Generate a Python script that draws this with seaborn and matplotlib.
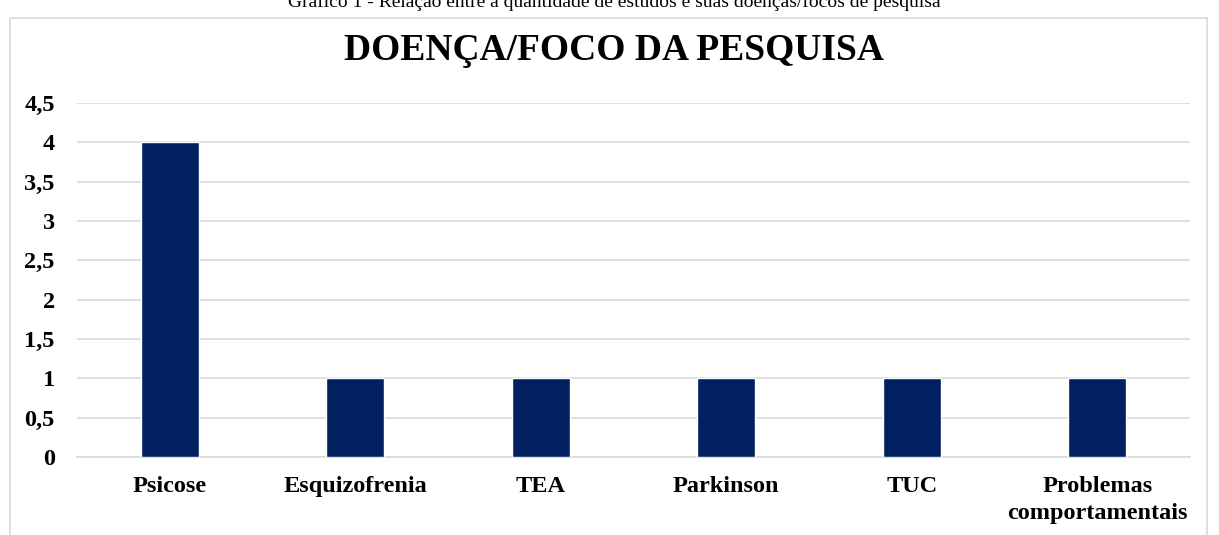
import matplotlib
matplotlib.use("Agg")
import matplotlib.pyplot as plt
import seaborn as sns
import pandas as pd
from matplotlib.patches import Rectangle

categories = ["Psicose", "Esquizofrenia", "TEA", "Parkinson", "TUC", "Problemas\ncomportamentais"]
values = [4, 1, 1, 1, 1, 1]
ytick_values = [0, 0.5, 1, 1.5, 2, 2.5, 3, 3.5, 4, 4.5]
ytick_labels = ["0", "0,5", "1", "1,5", "2", "2,5", "3", "3,5", "4", "4,5"]
title = "DOENÇA/FOCO DA PESQUISA"
caption = "Gráfico 1 - Relação entre a quantidade de estudos e suas doenças/focos de pesquisa"

sns.set_theme(style="white")
plt.rcParams['font.family'] = ['Liberation Serif', 'DejaVu Serif']
plt.rcParams['text.color'] = 'black'
plt.rcParams['xtick.color'] = 'black'
plt.rcParams['ytick.color'] = 'black'

W, H = 1219, 535
fig = plt.figure(figsize=(W / 100, H / 100), dpi=100)

# outer chart border
fig.patches.append(Rectangle((10 / W, -0.05), (1207 - 10) / W, 1 - 18 / H + 0.05,
                             transform=fig.transFigure, fill=False,
                             edgecolor="#d9d9d9", linewidth=1.2, zorder=0))
# caption (partly cut off at the top, as in the source)
fig.text(614 / W, 1 - 2 / H, caption, ha="center", va="center", fontsize=14, color="black")

ax = fig.add_axes([77 / W, 1 - 457 / H, (1190 - 77) / W, (457 - 103) / H])
df = pd.DataFrame({"cat": categories, "val": values})
sns.barplot(data=df, x="cat", y="val", color="#002060", width=0.31, saturation=1, ax=ax, zorder=3)

ax.set_ylim(0, 4.5)
ax.set_xlim(-0.5, len(categories) - 0.5)
ax.set_yticks(ytick_values)
ax.set_yticklabels(ytick_labels, fontsize=17.5, fontweight="bold", color="black")
ax.set_xticklabels(categories, fontsize=17.5, fontweight="bold", linespacing=1.32, color="black")
ax.tick_params(axis="y", length=0, pad=16)
ax.tick_params(axis="x", length=0, pad=14)
ax.set_xlabel("")
ax.set_ylabel("")
ax.grid(axis="y", color="#d9d9d9", linewidth=1.2, zorder=0)
ax.set_axisbelow(True)
for s in ["top", "right", "left"]:
    ax.spines[s].set_visible(False)
ax.spines["bottom"].set_color("#d9d9d9")
ax.spines["bottom"].set_linewidth(1.2)

fig.text(614 / W, 1 - 51 / H, title, ha="center", va="center", fontsize=27, fontweight="bold", color="black")

fig.savefig("out.png", dpi=100)
